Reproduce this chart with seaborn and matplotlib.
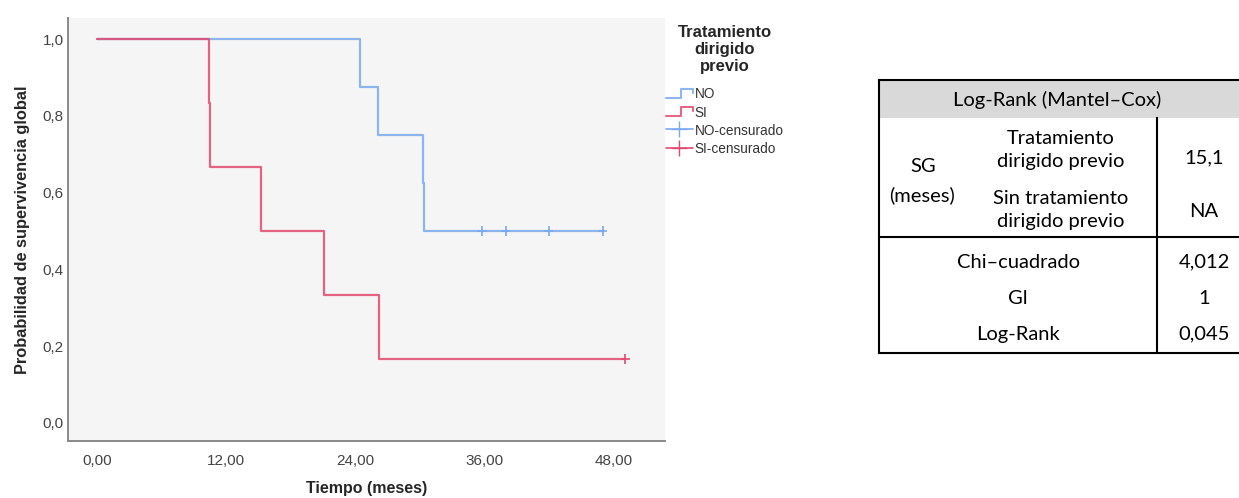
import numpy as np
import pandas as pd
import matplotlib
matplotlib.use("Agg")
import matplotlib.pyplot as plt
from matplotlib.lines import Line2D
from matplotlib.legend_handler import HandlerBase
import seaborn as sns

# Follow-up data (months) per group
groups = ["NO", "SI"]
no_event_times = [24.4, 26.1, 30.3, 30.4]
no_censor_times = [35.8, 38.0, 42.0, 47.0]
si_event_times = [10.4, 10.5, 15.2, 21.1, 26.2]
si_censor_times = [49.1]

x_ticks = [0, 12, 24, 36, 48]
y_ticks = [0.0, 0.2, 0.4, 0.6, 0.8, 1.0]

# Log-rank summary table
table_header = "Log-Rank (Mantel–Cox)"
table_group_label = ["SG", "(meses)"]
table_groups = ["Tratamiento\ndirigido previo", "Sin tratamiento\ndirigido previo"]
table_medians = ["15,1", "NA"]
table_stat_names = ["Chi–cuadrado", "Gl", "Log-Rank"]
table_stat_values = ["4,012", "1", "0,045"]

colors = {"NO": "#7BA9EC", "SI": "#E2496F"}


def kaplan_meier(events, censored):
    times = sorted([(t, 1) for t in events] + [(t, 0) for t in censored])
    n = len(times)
    s = 1.0
    xs, ys = [0.0], [1.0]
    cens_x, cens_y = [], []
    for t, e in times:
        if e:
            s *= (n - 1) / n
            xs.append(t)
            ys.append(s)
        else:
            cens_x.append(t)
            cens_y.append(s)
        n -= 1
    xs.append(times[-1][0])
    ys.append(s)
    return xs, ys, cens_x, cens_y


curves, marks = [], []
for g, ev, ce in [("NO", no_event_times, no_censor_times),
                  ("SI", si_event_times, si_censor_times)]:
    xs, ys, cx, cy = kaplan_meier(ev, ce)
    curves.append(pd.DataFrame({"t": xs, "s": ys, "grupo": g}))
    marks.append(pd.DataFrame({"t": cx, "s": cy, "grupo": g}))
curves = pd.concat(curves, ignore_index=True)
marks = pd.concat(marks, ignore_index=True)

sns.set_style("white")
plt.rcParams["font.family"] = ["Liberation Sans", "DejaVu Sans"]

W, H = 1239, 498
fig = plt.figure(figsize=(W / 100, H / 100), dpi=100)
ax = fig.add_axes([68 / W, 1 - 441 / H, (665 - 68) / W, (441 - 18) / H])
ax.set_facecolor("#F5F5F5")

sns.lineplot(data=curves, x="t", y="s", hue="grupo", palette=colors,
             hue_order=groups, drawstyle="steps-post", estimator=None,
             sort=False, linewidth=1.6, alpha=0.85, legend=False, ax=ax)
sns.scatterplot(data=marks, x="t", y="s", hue="grupo", palette=colors,
                hue_order=groups, marker="+", s=45, linewidth=1.2,
                legend=False, ax=ax)

ax.set_xlim(-2.7, 52.8)
ax.set_ylim(-0.047, 1.055)
ax.set_xticks(x_ticks)
ax.set_xticklabels([f"{v:.2f}".replace(".", ",") for v in x_ticks])
ax.set_yticks(y_ticks)
ax.set_yticklabels([f"{v:.1f}".replace(".", ",") for v in y_ticks])
ax.tick_params(length=0, labelsize=11, colors="#444444")
ax.tick_params(axis="y", pad=3)
ax.tick_params(axis="x", pad=9)
for side in ["top", "right"]:
    ax.spines[side].set_visible(False)
for side in ["left", "bottom"]:
    ax.spines[side].set_color("#8A8A8A")
    ax.spines[side].set_linewidth(1.4)
ax.set_xlabel("Tiempo (meses)", fontsize=11.5, fontweight="bold", labelpad=10)
ax.set_ylabel("Probabilidad de supervivencia global", fontsize=11.8,
              fontweight="bold", labelpad=9)


class StepHandler(HandlerBase):
    def create_artists(self, legend, orig_handle, xdescent, ydescent,
                       width, height, fontsize, trans):
        x0, x1 = -xdescent, -xdescent + width
        xm = x0 + width * 0.55
        lo, hi = -ydescent + height * 0.15, -ydescent + height * 0.9
        line = Line2D([x0, xm, xm, x1, x1], [lo, lo, hi, hi, hi - height * 0.35],
                      color=orig_handle.get_color(), lw=1.5, alpha=0.85,
                      transform=trans)
        return [line]


handles = [
    Line2D([], [], color=colors["NO"]),
    Line2D([], [], color=colors["SI"]),
    Line2D([], [], color=colors["NO"], marker="+", markersize=12, lw=1.2),
    Line2D([], [], color=colors["SI"], marker="+", markersize=12, lw=1.2),
]
labels = ["NO", "SI", "NO-censurado", "SI-censurado"]
leg = fig.legend(handles, labels, loc="upper left",
                 bbox_to_anchor=(666 / W, 1 - 25 / H),
                 title="Tratamiento\ndirigido\nprevio", frameon=False,
                 fontsize=9.8, title_fontsize=12, handlelength=1.95,
                 handleheight=0.9, handletextpad=0.15, labelspacing=0.3,
                 borderpad=0.0, borderaxespad=0.0,
                 handler_map={handles[0]: StepHandler(), handles[1]: StepHandler()})
leg.get_title().set_fontweight("bold")
leg.get_title().set_multialignment("center")
leg.get_title().set_linespacing(1.15)
leg._legend_box.align = "center"
leg._legend_box.sep = 10
for t in leg.get_texts():
    t.set_color("#333333")

# Summary table drawn on a figure-sized overlay in pixel units
tab = fig.add_axes([0, 0, 1, 1], facecolor="none")
tab.set_xlim(0, W)
tab.set_ylim(H, 0)
tab.axis("off")
left, right, col = 879, 1240, 1157
top, head_bot, mid, bot = 80, 118, 237, 353
tab.fill_between([left, right], top, head_bot, color="#D9D9D9", lw=0)
lk = dict(color="black", lw=1.5, solid_capstyle="projecting")
tab.plot([left, right], [top, top], **lk)
tab.plot([left, left], [top, bot], **lk)
tab.plot([left, right], [bot, bot], **lk)
tab.plot([left, right], [mid, mid], **lk)
tab.plot([col, col], [head_bot, bot], **lk)

tf = dict(family=["Lato", "DejaVu Sans"], fontsize=14.5, color="black",
          ha="center", va="center")
tab.text(1057, 100, table_header, **tf)
tab.text(923, 166, table_group_label[0], **tf)
tab.text(922, 195, table_group_label[1], **tf)
tab.text(1061, 150, table_groups[0], linespacing=1.45, **tf)
tab.text(1061, 210, table_groups[1], linespacing=1.45, **tf)
tab.text(1204, 158, table_medians[0], **tf)
tab.text(1204, 211, table_medians[1], **tf)
for i, (n, v) in enumerate(zip(table_stat_names, table_stat_values)):
    y = 262 + i * 36
    tab.text(1018, y, n, **tf)
    tab.text(1204, y, v, **tf)

fig.savefig("out.png", dpi=100)
